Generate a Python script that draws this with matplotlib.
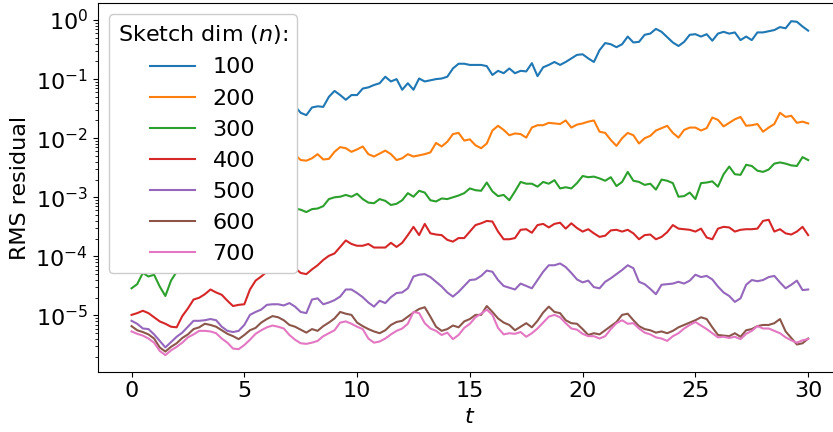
import numpy as np
import matplotlib
matplotlib.use("Agg")
import matplotlib.pyplot as plt

# time grid, t = 0 .. 30 in steps of 0.25
t = np.linspace(0, 30, 121)

# log10(RMS residual).
# *_a : values at t = 0, 0.5, 1, ..., 30
# *_b : values at t = 0.25, 0.75, ..., 29.75
n100_a = [-2.20, -2.14, -2.17, -2.09, -2.03, -1.97, -1.92, -1.89, -1.78, -1.75,
          -1.66, -1.58, -1.47, -1.35, -1.40, -1.57, -1.48, -1.47, -1.20, -1.35,
          -1.27, -1.14, -1.07, -1.04, -1.18, -1.18, -1.04, -1.00, -0.96, -0.74,
          -0.76, -0.76, -0.93, -0.90, -0.90, -0.87, -0.95, -0.76, -0.76, -0.65,
          -0.58, -0.71, -0.39, -0.46, -0.28, -0.37, -0.23, -0.20, -0.38, -0.37,
          -0.24, -0.24, -0.23, -0.23, -0.34, -0.34, -0.21, -0.17, -0.14, -0.03,
          -0.18]
n100_b = [-2.17, -2.13, -2.14, -2.08, -2.02, -1.93, -1.91, -1.83, -1.76, -1.69,
          -1.64, -1.52, -1.42, -1.34, -1.46, -1.61, -1.46, -1.30, -1.27, -1.27,
          -1.16, -1.10, -0.96, -1.00, -1.07, -0.99, -1.02, -0.99, -0.82, -0.74,
          -0.76, -0.78, -0.86, -0.82, -0.86, -0.73, -0.80, -0.71, -0.71, -0.59,
          -0.65, -0.51, -0.41, -0.41, -0.38, -0.25, -0.15, -0.29, -0.44, -0.25,
          -0.28, -0.35, -0.20, -0.21, -0.28, -0.21, -0.19, -0.12, -0.02, -0.11]

n200_a = [-3.05, -2.99, -3.02, -3.05, -2.96, -2.88, -2.82, -2.74, -2.71, -2.59,
          -2.51, -2.45, -2.34, -2.26, -2.20, -2.37, -2.34, -2.36, -2.23, -2.17,
          -2.19, -2.27, -2.26, -2.27, -2.34, -2.31, -2.27, -2.08, -2.06, -1.91,
          -2.02, -2.17, -1.87, -1.86, -1.92, -1.99, -1.78, -1.74, -1.76, -1.82,
          -1.75, -1.70, -1.91, -2.13, -1.91, -2.09, -1.96, -1.83, -1.91, -1.86,
          -1.82, -1.83, -1.69, -1.74, -1.64, -1.78, -1.89, -1.76, -1.64, -1.74,
          -1.75]
n200_b = [-3.02, -3.00, -3.03, -3.00, -2.92, -2.85, -2.77, -2.72, -2.65, -2.55,
          -2.48, -2.40, -2.30, -2.23, -2.28, -2.38, -2.27, -2.35, -2.15, -2.23,
          -2.14, -2.31, -2.21, -2.37, -2.27, -2.29, -2.24, -2.14, -1.93, -2.04,
          -2.12, -2.09, -1.79, -1.95, -1.93, -1.82, -1.78, -1.75, -1.70, -1.77,
          -1.72, -1.89, -2.03, -2.00, -1.95, -2.00, -1.87, -1.79, -1.99, -1.82,
          -1.87, -1.65, -1.80, -1.68, -1.79, -1.76, -1.82, -1.57, -1.62, -1.72]

n300_a = [-4.54, -4.28, -4.31, -4.67, -4.26, -4.12, -4.00, -3.86, -3.72, -3.61,
          -3.50, -3.41, -3.33, -3.24, -3.16, -3.21, -3.20, -3.15, -3.00, -2.96,
          -2.94, -3.09, -3.03, -3.13, -3.05, -2.99, -2.92, -3.07, -3.03, -2.97,
          -2.85, -2.89, -2.90, -2.96, -2.90, -2.77, -2.82, -2.77, -2.85, -2.85,
          -2.64, -2.65, -2.72, -2.81, -2.57, -2.74, -2.77, -2.70, -2.76, -2.98,
          -3.03, -2.75, -2.82, -2.48, -2.62, -2.47, -2.57, -2.43, -2.43, -2.47,
          -2.37]
n300_b = [-4.47, -4.34, -4.51, -4.41, -4.17, -4.06, -3.94, -3.79, -3.67, -3.55,
          -3.45, -3.37, -3.28, -3.20, -3.19, -3.25, -3.19, -3.03, -2.99, -2.99,
          -3.03, -3.10, -3.06, -3.11, -2.93, -2.89, -3.05, -3.02, -3.00, -2.93,
          -2.88, -2.75, -2.98, -3.05, -2.74, -2.77, -2.74, -2.71, -2.83, -2.76,
          -2.66, -2.68, -2.66, -2.74, -2.72, -2.79, -2.87, -2.72, -2.99, -2.92,
          -2.76, -2.73, -2.61, -2.61, -2.45, -2.55, -2.53, -2.41, -2.46, -2.32]

n400_a = [-4.99, -4.92, -5.03, -5.14, -5.20, -4.88, -4.70, -4.56, -4.65, -4.84,
          -4.81, -4.41, -4.26, -4.17, -4.12, -4.28, -4.22, -4.06, -3.95, -3.73,
          -3.82, -3.79, -3.85, -3.77, -3.77, -3.50, -3.45, -3.63, -3.72, -3.69,
          -3.58, -3.44, -3.41, -3.71, -3.69, -3.54, -3.47, -3.51, -3.43, -3.44,
          -3.58, -3.61, -3.65, -3.55, -3.55, -3.71, -3.63, -3.67, -3.47, -3.54,
          -3.58, -3.68, -3.53, -3.51, -3.55, -3.54, -3.40, -3.58, -3.61, -3.58,
          -3.64]
n400_b = [-4.96, -4.96, -5.10, -5.19, -5.01, -4.73, -4.64, -4.61, -4.75, -4.82,
          -4.56, -4.34, -4.22, -4.15, -4.20, -4.30, -4.15, -3.99, -3.84, -3.79,
          -3.82, -3.85, -3.85, -3.84, -3.64, -3.64, -3.61, -3.64, -3.75, -3.69,
          -3.47, -3.40, -3.58, -3.71, -3.55, -3.60, -3.45, -3.45, -3.53, -3.52,
          -3.54, -3.67, -3.56, -3.58, -3.61, -3.64, -3.71, -3.59, -3.53, -3.55,
          -3.53, -3.71, -3.50, -3.58, -3.54, -3.53, -3.38, -3.54, -3.63, -3.50]

n500_a = [-5.09, -5.22, -5.32, -5.54, -5.36, -5.19, -5.09, -5.06, -5.19, -5.28,
          -5.16, -4.94, -4.82, -4.81, -4.79, -4.94, -4.73, -4.81, -4.74, -4.56,
          -4.62, -4.78, -4.75, -4.69, -4.61, -4.34, -4.30, -4.43, -4.61, -4.60,
          -4.40, -4.33, -4.26, -4.50, -4.56, -4.50, -4.40, -4.15, -4.12, -4.28,
          -4.44, -4.52, -4.43, -4.30, -4.15, -4.43, -4.55, -4.48, -4.46, -4.46,
          -4.31, -4.33, -4.51, -4.67, -4.71, -4.40, -4.40, -4.33, -4.54, -4.41,
          -4.56]
n500_b = [-5.14, -5.23, -5.43, -5.45, -5.29, -5.09, -5.08, -5.08, -5.26, -5.26,
          -4.99, -4.90, -4.81, -4.83, -4.85, -4.96, -4.71, -4.78, -4.68, -4.56,
          -4.69, -4.85, -4.79, -4.62, -4.54, -4.31, -4.35, -4.51, -4.68, -4.50,
          -4.39, -4.24, -4.40, -4.53, -4.46, -4.54, -4.26, -4.15, -4.18, -4.39,
          -4.41, -4.54, -4.37, -4.23, -4.20, -4.47, -4.64, -4.47, -4.43, -4.41,
          -4.35, -4.39, -4.61, -4.77, -4.48, -4.42, -4.35, -4.44, -4.48, -4.57]

n600_a = [-5.18, -5.28, -5.39, -5.61, -5.47, -5.32, -5.20, -5.16, -5.25, -5.35,
          -5.33, -5.21, -5.06, -5.03, -5.16, -5.24, -5.23, -5.18, -5.05, -4.97,
          -5.12, -5.23, -5.30, -5.16, -5.09, -4.95, -4.86, -5.19, -5.23, -5.20,
          -5.06, -4.99, -4.94, -5.12, -5.25, -5.13, -5.09, -4.85, -4.96, -5.13,
          -5.23, -5.30, -5.25, -5.11, -4.97, -5.18, -5.25, -5.27, -5.26, -5.16,
          -5.08, -5.06, -5.33, -5.35, -5.36, -5.23, -5.16, -5.13, -5.27, -5.49,
          -5.39]
n600_b = [-5.25, -5.32, -5.54, -5.53, -5.38, -5.23, -5.14, -5.19, -5.31, -5.40,
          -5.25, -5.12, -5.01, -5.08, -5.19, -5.29, -5.26, -5.12, -4.94, -4.99,
          -5.18, -5.27, -5.25, -5.11, -5.02, -4.89, -5.02, -5.26, -5.17, -5.10,
          -4.99, -4.84, -5.05, -5.16, -5.19, -5.20, -4.95, -4.94, -5.08, -5.14,
          -5.33, -5.32, -5.18, -4.99, -5.08, -5.23, -5.29, -5.30, -5.20, -5.12,
          -5.03, -5.20, -5.34, -5.30, -5.25, -5.18, -5.16, -5.06, -5.38, -5.47]

n700_a = [-5.27, -5.34, -5.46, -5.67, -5.53, -5.37, -5.26, -5.27, -5.39, -5.56,
          -5.50, -5.31, -5.20, -5.19, -5.33, -5.47, -5.46, -5.35, -5.25, -5.10,
          -5.19, -5.39, -5.44, -5.32, -5.22, -4.94, -5.13, -5.26, -5.29, -5.33,
          -5.14, -4.97, -4.99, -5.32, -5.31, -5.36, -5.22, -5.02, -5.03, -5.22,
          -5.31, -5.35, -5.35, -5.13, -5.14, -5.22, -5.32, -5.39, -5.35, -5.22,
          -5.11, -5.23, -5.37, -5.38, -5.40, -5.26, -5.22, -5.26, -5.37, -5.46,
          -5.40]
n700_b = [-5.31, -5.39, -5.60, -5.59, -5.46, -5.32, -5.26, -5.30, -5.46, -5.57,
          -5.41, -5.25, -5.17, -5.22, -5.41, -5.48, -5.43, -5.30, -5.12, -5.14,
          -5.23, -5.46, -5.39, -5.26, -5.14, -4.96, -5.22, -5.33, -5.40, -5.21,
          -5.03, -4.90, -5.21, -5.30, -5.28, -5.30, -5.12, -4.99, -5.13, -5.24,
          -5.35, -5.39, -5.23, -5.08, -5.13, -5.29, -5.37, -5.43, -5.30, -5.16,
          -5.17, -5.30, -5.36, -5.36, -5.31, -5.18, -5.22, -5.30, -5.42, -5.42]

sketch_dims = [100, 200, 300, 400, 500, 600, 700]
series = [(n100_a, n100_b), (n200_a, n200_b), (n300_a, n300_b), (n400_a, n400_b),
          (n500_a, n500_b), (n600_a, n600_b), (n700_a, n700_b)]

plt.rcParams['font.size'] = 16

fig = plt.figure(figsize=(8.33, 4.32), dpi=100)
ax = fig.add_axes([0.1173, 0.1396, 0.8935, 0.8528])

for n, (va, vb) in zip(sketch_dims, series):
    logv = np.empty(len(t))
    logv[0::2] = va
    logv[1::2] = vb
    ax.plot(t, 10.0 ** logv, lw=1.5, label=str(n))

ax.set_yscale('log')
ax.set_xlim(-1.5, 31.5)
ax.set_ylim(10 ** -5.951, 10 ** 0.283)
ax.set_yticks([1e-5, 1e-4, 1e-3, 1e-2, 1e-1, 1e0])
ax.set_xticks([0, 5, 10, 15, 20, 25, 30])
ax.set_xlabel('$t$')
ax.set_ylabel('RMS residual')
ax.legend(title='Sketch dim ($n$):', loc='upper left', framealpha=1)

fig.savefig('out.png', dpi=100)
